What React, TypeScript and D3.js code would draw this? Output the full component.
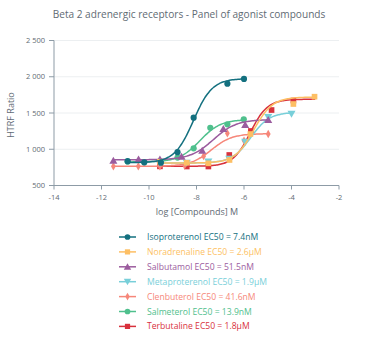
import React from "react";
import * as d3 from "d3";

const title = "Beta 2 adrenergic receptors - Panel of agonist compounds";
const xTicks = [-14, -12, -10, -8, -6, -4, -2];
const yTicks = [500, 1000, 1500, 2000, 2500];

const names = ["Isoproterenol", "Noradrenaline", "Salbutamol", "Metaproterenol", "Clenbuterol", "Salmeterol", "Terbutaline"];
const ec50Labels = ["7.4nM", "2.6µM", "51.5nM", "1.9µM", "41.6nM", "13.9nM", "1.8µM"];
const colors = ["#13707f", "#fdbf64", "#9b5c9e", "#78cfd9", "#f6877a", "#4fc08d", "#d8313c"];
const symbols = ["circle", "square", "triangle", "triangleDown", "diamond", "circle", "square"];

// fitted 4PL parameters
const logEC50 = [-8.13, -5.59, -7.29, -5.72, -7.38, -7.86, -5.74];
const bottoms = [815, 810, 855, 810, 765, 825, 765];
const tops = [1975, 1720, 1410, 1510, 1215, 1410, 1690];
const hills = [1.1, 1.1, 0.9, 1.1, 1.0, 1.0, 1.2];
const fitStart = [-10.9, -9.54, -11.5, -9.54, -11.5, -10.9, -9.54];
const fitEnd = [-6.0, -3.03, -4.98, -4.0, -4.98, -6.0, -3.0];

const isoproterenol: [number, number][] = [[-10.9, 835], [-10.2, 820], [-9.5, 815], [-8.8, 960], [-8.12, 1435], [-6.7, 1905], [-6.0, 1970]];
const noradrenaline: [number, number][] = [[-9.54, 828], [-8.41, 814], [-7.5, 806], [-6.61, 852], [-5.73, 1210], [-3.92, 1624], [-3.03, 1725]];
const salbutamol: [number, number][] = [[-11.5, 842], [-10.44, 861], [-9.54, 861], [-8.63, 897], [-7.76, 980], [-6.87, 1279], [-5.95, 1334], [-4.98, 1403]];
const metaproterenol: [number, number][] = [[-9.54, 812], [-8.41, 815], [-7.5, 830], [-6.62, 868], [-5.95, 1104], [-4.98, 1445], [-4.0, 1490]];
const clenbuterol: [number, number][] = [[-11.5, 765], [-10.45, 765], [-9.54, 765], [-8.5, 778], [-7.7, 905], [-6.7, 1220], [-6.0, 1120], [-4.98, 1210]];
const salmeterol: [number, number][] = [[-10.9, 830], [-10.2, 822], [-9.5, 830], [-8.8, 885], [-8.12, 1013], [-7.42, 1297], [-6.7, 1344], [-6.01, 1413]];
const terbutaline: [number, number][] = [[-9.54, 764], [-8.41, 762], [-7.5, 762], [-6.62, 921], [-5.71, 1252], [-4.84, 1541], [-3.92, 1672]];
const points = [isoproterenol, noradrenaline, salbutamol, metaproterenol, clenbuterol, salmeterol, terbutaline];

const W = 365, H = 339;
const x = d3.scaleLinear().domain([-14, -2]).range([54, 339]);
const y = d3.scaleLinear().domain([500, 2500]).range([185.5, 40.5]);

function symPath(kind: string, scale = 1) {
  const map: Record<string, [d3.SymbolType, number]> = {
    circle: [d3.symbolCircle, 30],
    square: [d3.symbolSquare, 32],
    triangle: [d3.symbolTriangle, 28],
    triangleDown: [d3.symbolTriangle, 28],
    diamond: [d3.symbolDiamond, 20],
  };
  const [t, s] = map[kind];
  return d3.symbol().type(t).size(s * scale)() as string;
}

function fitCurve(i: number) {
  const n = 80;
  const pts: [number, number][] = [];
  for (let k = 0; k <= n; k++) {
    const lx = fitStart[i] + ((fitEnd[i] - fitStart[i]) * k) / n;
    const v = bottoms[i] + (tops[i] - bottoms[i]) / (1 + Math.pow(10, (logEC50[i] - lx) * hills[i]));
    pts.push([lx, v]);
  }
  return d3.line<[number, number]>().x((d) => x(d[0])).y((d) => y(d[1])).curve(d3.curveBasis)(pts) as string;
}

function Marker({ kind, cx, cy, color, scale = 1 }: { kind: string; cx: number; cy: number; color: string; scale?: number }) {
  const rot = kind === "triangleDown" ? " rotate(180)" : "";
  const dy = kind === "triangle" ? 0.7 : kind === "triangleDown" ? -0.7 : 0;
  return <path d={symPath(kind, scale)} transform={`translate(${cx},${cy + dy})${rot}`} fill={color} />;
}

export default function App() {
  const font = "'Open Sans', 'Noto Sans', sans-serif";
  const axisColor = "#8d9ba6";
  const textColor = "#5f6b74";
  const order = [6, 5, 4, 3, 2, 1, 0];
  return (
    <svg width={W} height={H} style={{ position: "absolute", left: 0, top: 0, fontFamily: font }}>
      <rect width={W} height={H} fill="#fff" />
      <text x={189} y={18} textAnchor="middle" fontSize={10.1} fill={textColor}>{title}</text>
      {yTicks.filter((t) => t > 500).map((t) => (
        <line key={"g" + t} x1={x(-14)} x2={x(-2)} y1={y(t)} y2={y(t)} stroke="#eceff1" strokeWidth={1} />
      ))}
      <line x1={x(-14)} x2={x(-14)} y1={y(2500)} y2={y(500)} stroke={axisColor} strokeWidth={1} />
      <line x1={x(-14)} x2={x(-2)} y1={y(500)} y2={y(500)} stroke={axisColor} strokeWidth={1} />
      {yTicks.map((t) => (
        <g key={"y" + t}>
          <line x1={x(-14) - 5} x2={x(-14)} y1={y(t)} y2={y(t)} stroke={axisColor} />
          <text x={45} y={y(t)} dy="0.35em" textAnchor="end" fontSize={7.5} fill={textColor}>
            {d3.format(",")(t).replace(",", " ")}
          </text>
        </g>
      ))}
      {xTicks.map((t) => (
        <g key={"x" + t}>
          <line x1={x(t)} x2={x(t)} y1={y(500)} y2={y(500) + 4} stroke={axisColor} />
          <text x={x(t)} y={197} dy="0.35em" textAnchor="middle" fontSize={7.5} fill={textColor}>{t}</text>
        </g>
      ))}
      <text x={197} y={212} dy="0.35em" textAnchor="middle" fontSize={9} fill={textColor}>log [Compounds] M</text>
      <text transform={`translate(11,115) rotate(-90)`} dy="0.35em" textAnchor="middle" fontSize={9} fill={textColor}>HTRF Ratio</text>
      {order.map((i) => (
        <g key={"s" + i}>
          <path d={fitCurve(i)} fill="none" stroke={colors[i]} strokeWidth={1.5} />
          {points[i].map((p, k) => (
            <Marker key={k} kind={symbols[i]} cx={x(p[0])} cy={y(p[1])} color={colors[i]} />
          ))}
        </g>
      ))}
      {names.map((n, i) => {
        const ly = 237 + i * 14.9;
        return (
          <g key={"l" + i}>
            <line x1={119} x2={136} y1={ly} y2={ly} stroke={colors[i]} strokeWidth={1.5} />
            <Marker kind={symbols[i]} cx={127.5} cy={ly} color={colors[i]} scale={0.85} />
            <text x={147} y={ly} dy="0.35em" fontSize={8.6} fill={colors[i]}>{`${n} EC50 = ${ec50Labels[i]}`}</text>
          </g>
        );
      })}
    </svg>
  );
}
